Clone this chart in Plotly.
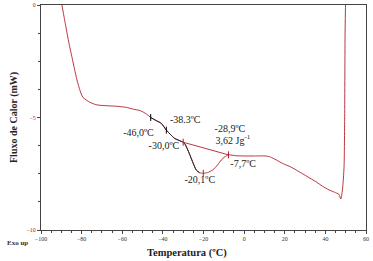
import plotly.graph_objects as go

# DSC curve (temperature in °C, heat flow in mW)
temp = [-89.7, -88.5, -87.2, -86.0, -84.8, -83.5, -82.3, -80.8, -79.4, -76.0, -72.5, -67.0,
        -62.7, -58.0, -55.0, -51.0, -48.0, -46.0, -43.0, -40.8, -38.3, -36.0, -34.2, -32.0,
        -30.0, -29.0, -27.0, -25.0, -23.6, -22.0, -20.1, -18.0, -15.4, -13.0, -11.3, -9.5,
        -7.7, -4.0, 0.0, 5.0, 10.8, 13.0, 15.7, 18.9, 23.0, 27.1, 31.0, 35.3, 38.5, 41.8,
        44.5, 46.7, 47.6, 48.4, 49.2, 49.5, 49.7, 50.0]
flux = [0.0, -0.6, -1.24, -1.8, -2.3, -2.85, -3.33, -3.8, -4.1, -4.32, -4.44, -4.48,
        -4.5, -4.55, -4.62, -4.7, -4.85, -5.0, -5.15, -5.26, -5.56, -5.78, -5.93, -6.02,
        -6.1, -6.2, -6.6, -7.05, -7.33, -7.45, -7.48, -7.45, -7.33, -7.1, -6.89, -6.75,
        -6.66, -6.7, -6.71, -6.71, -6.71, -6.76, -6.88, -7.04, -7.2, -7.41, -7.62, -7.85, -8.05, -8.22,
        -8.32, -8.42, -8.62, -8.22, -7.19, -4.96, -1.24, 0.5]

# analysis range overlaid in black (glass transition + onset of the peak)
black_from, black_to = -46.0, -21.0
# integration baseline
base_t = [-30.0, -7.7]
base_v = [-6.1, -6.66]
# marked points
mark_t = [-46.0, -38.3, -30.0, -20.1, -7.7]
mark_v = [-5.0, -5.56, -6.1, -7.48, -6.66]
mark_c = ["black", "black", "#b0202a", "#b0202a", "#b0202a"]

# labels
lab_text = ["-38.3ºC", "-46,0ºC", "-30,0ºC", "-28,9ºC", "3,62 Jg<sup>-1</sup>", "-7,7ºC", "-20,1ºC"]
lab_t = [-29.0, -52.0, -39.5, -7.0, -5.5, -0.5, -21.8]
lab_v = [-5.15, -5.7, -6.3, -5.55, -6.05, -7.1, -7.8]

x_ticks = [-100, -80, -60, -40, -20, 0, 20, 40, 60]
y_ticks = [0, -5, -10]

red = "#b0202a"
serif = "Liberation Serif"

fig = go.Figure()
fig.add_trace(go.Scatter(x=temp, y=flux, mode="lines", line=dict(color=red, width=0.9, shape="spline", smoothing=0.6),
                         showlegend=False))
bt = [t for t in temp if black_from <= t <= black_to]
bv = [v for t, v in zip(temp, flux) if black_from <= t <= black_to]
fig.add_trace(go.Scatter(x=bt, y=bv, mode="lines", line=dict(color="#222", width=1, shape="spline", smoothing=0.6),
                         showlegend=False))
fig.add_trace(go.Scatter(x=base_t, y=base_v, mode="lines", line=dict(color=red, width=0.9), showlegend=False))
fig.add_trace(go.Scatter(x=mark_t, y=mark_v, mode="markers",
                         marker=dict(symbol="line-ns", size=5, line=dict(color=mark_c, width=1)),
                         showlegend=False))
fig.add_trace(go.Scatter(x=lab_t, y=lab_v, mode="text", text=lab_text,
                         textfont=dict(family=serif, size=10, color="#222"), showlegend=False))

fig.update_layout(
    template="none",
    width=373, height=261,
    margin=dict(l=41, r=7, t=5, b=31),
    paper_bgcolor="white", plot_bgcolor="white",
    xaxis=dict(range=[-100, 60], tickvals=x_ticks, ticks="outside", ticklen=3, tickwidth=1,
               tickfont=dict(family=serif, size=6, color="#333"), automargin=False,
               showline=True, linecolor="#444", linewidth=1, mirror=True, showgrid=False, zeroline=False,
               minor=dict(dtick=5, ticks="outside", ticklen=2, tickcolor="#444")),
    yaxis=dict(range=[-10, 0], tickvals=y_ticks, ticks="outside", ticklen=3, tickwidth=1,
               tickfont=dict(family=serif, size=6, color=red), automargin=False,
               showline=True, linecolor="#444", linewidth=1, mirror=True, showgrid=False, zeroline=False,
               minor=dict(dtick=1.25, ticks="outside", ticklen=2, tickcolor="#444")),
)
fig.add_annotation(text="<b>Temperatura (ºC)</b>", xref="paper", yref="paper", x=0.45, y=-0.066,
                   xanchor="center", yanchor="top", showarrow=False,
                   font=dict(family=serif, size=10.5, color="#222"))
fig.add_annotation(text="<b>Fluxo de Calor (mW)</b>", xref="paper", yref="paper", x=-0.06, y=0.5,
                   xanchor="right", yanchor="middle", textangle=-90, showarrow=False,
                   font=dict(family=serif, size=10, color="#222"))
fig.add_annotation(text="<b>Exo up</b>", xref="paper", yref="paper", x=-0.071, y=-0.058,
                   xanchor="center", yanchor="middle", showarrow=False,
                   font=dict(family=serif, size=7, color="#333"))
fig.write_html("out.html", config={"displayModeBar": False},
               post_script="document.body.style.margin='0';")
